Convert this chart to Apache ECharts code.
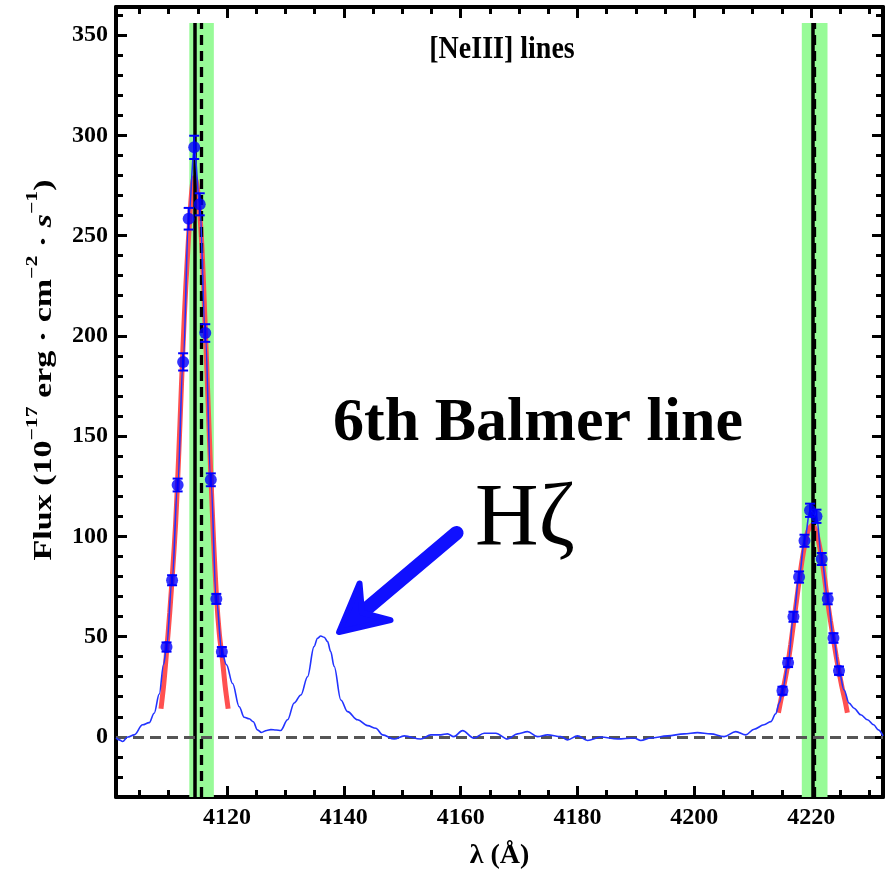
<!DOCTYPE html>
<html>
<head>
<meta charset="utf-8">
<script src="https://cdn.jsdelivr.net/npm/echarts@6/dist/echarts.min.js"></script>
<style>
  html, body { margin: 0; padding: 0; background: #fff; }
  #chart { width: 891px; height: 875px; }
</style>
</head>
<body>
<div id="chart"></div>
<script>
// ---- Spectrum (wavelength in Å, flux in 1e-17 erg/cm^2/s) ----
// continuum blueward of the first [NeIII] line
const contLeftWave = [4101.0, 4101.55, 4102.13, 4103.0, 4104.12, 4105.56, 4106.68, 4107.54, 4108.4, 4109.15];
const contLeftFlux = [-0.5, -1.5, -2.3, -0.1, 1.0, 6.0, 7.1, 11.8, 21.3, 36.2];

// pixels inside the first fit window (points with error bars)
const lineAWave = [4109.65, 4110.60, 4111.55, 4112.49, 4113.44, 4114.39, 4115.33, 4116.28, 4117.23, 4118.17, 4119.12];
const lineAFlux = [44.8, 78.1, 125.6, 187.0, 258.4, 294.0, 265.6, 201.4, 128.2, 68.8, 42.5];
const lineAErr  = [2.3, 2.5, 3.2, 4.3, 5.4, 5.8, 5.5, 4.4, 3.2, 2.5, 2.3];

// continuum between the two lines, including the H-zeta bump
const contMidWave = [4119.9, 4120.96, 4122.09, 4122.94, 4123.8, 4124.5, 4125.2, 4125.9, 4126.8, 4127.5,
  4128.4, 4129.2, 4130.37, 4131.5, 4132.65, 4133.79, 4134.9, 4135.5, 4136.05, 4136.64,
  4137.22, 4137.75, 4138.35, 4139.49, 4140.64, 4142.35, 4144.06, 4145.48, 4146.63, 4148.62,
  4150.33, 4153.18, 4154.9, 4156.61, 4157.75, 4158.83, 4160.32, 4162.26, 4164.02, 4166.02,
  4168.02, 4169.73, 4171.45, 4173.16, 4174.87, 4177.15, 4178.29, 4180.0, 4181.72, 4183.99,
  4186.85, 4189.69, 4190.84, 4192.55, 4195.41, 4198.25, 4200.54, 4202.82, 4205.09, 4207.1,
  4208.81, 4210.23, 4211.94, 4213.09, 4213.94, 4214.55];
const contMidFlux = [36.0, 26.6, 15.0, 9.8, 9.0, 7.5, 3.5, 2.2, 3.2, 3.6,
  3.4, 3.2, 8.5, 16.9, 20.9, 30.0, 45.0, 49.2, 50.3, 49.7,
  47.5, 42.5, 35.1, 18.4, 12.6, 8.5, 5.6, 4.3, 1.0, -1.1,
  0.5, -1.1, 1.0, 1.0, 1.5, 0.1, 3.1, -0.6, 1.8, 1.8,
  -1.1, 1.5, 2.6, 0.1, 1.0, 0.1, -1.5, 0.5, -1.8, -0.1,
  -1.1, -0.6, -1.8, -0.6, 0.5, 1.5, 2.1, 1.5, 0.1, 2.6,
  1.0, 3.8, 6.0, 7.6, 11.5, 17.0];

// pixels inside the second fit window
const lineBWave = [4215.09, 4216.05, 4216.97, 4217.93, 4218.86, 4219.81, 4220.91, 4221.81, 4222.84, 4223.82, 4224.77];
const lineBFlux = [23.0, 37.0, 59.9, 79.7, 97.8, 113.0, 110.0, 88.7, 68.8, 49.3, 33.0];
const lineBErr  = [2.0, 2.2, 2.5, 2.8, 3.0, 3.3, 3.3, 3.0, 2.7, 2.4, 2.1];

// continuum redward of the second line
const contRightWave = [4225.63, 4226.49, 4227.34, 4228.49, 4229.64, 4230.7, 4231.5, 4232.3];
const contRightFlux = [23.4, 16.8, 14.3, 11.0, 8.5, 6.0, 3.5, 0.5];

// ---- Gaussian fit profiles ----
const fitAWave = [4108.7, 4109.2, 4109.7, 4110.2, 4110.7, 4111.2, 4111.7, 4112.2, 4112.7, 4113.2,
  4113.7, 4114.1, 4114.45, 4114.8, 4115.2, 4115.7, 4116.2, 4116.7, 4117.2, 4117.7,
  4118.2, 4118.7, 4119.2, 4119.7, 4120.2];
const fitAFlux = [14, 27, 44, 62, 83, 106, 138, 175, 210, 238,
  262, 276, 279, 276, 266, 245, 210, 172, 133, 98,
  70, 51, 39, 25, 14];
const fitBWave = [4214.4, 4215.0, 4215.5, 4216.0, 4216.5, 4217.0, 4217.5, 4218.0, 4218.5, 4219.0,
  4219.5, 4220.2, 4220.8, 4221.3, 4221.8, 4222.3, 4222.8, 4223.3, 4223.8, 4224.3,
  4224.8, 4225.3, 4225.8, 4226.2];
const fitBFlux = [12, 21, 28, 36, 46, 57, 68, 79, 89, 97,
  103, 105.5, 103, 97, 89, 79, 68, 58, 49, 40,
  32, 24.5, 18, 12];

// ---- reference wavelengths and fit windows ----
const restWave     = [4114.4, 4220.2];   // solid lines
const measuredWave = [4115.6, 4220.6];   // dashed lines
const windowLow    = [4113.55, 4218.4];
const windowHigh   = [4117.75, 4222.8];
const markerTop    = 356;

// ---- axes ----
const xRange = [4101.0, 4232.3];
const yRange = [-30, 364];
const xTicks = [4120, 4140, 4160, 4180, 4200, 4220];
const xMinorTicks = [4105, 4110, 4115, 4125, 4130, 4135, 4145, 4150, 4155, 4165, 4170, 4175,
  4185, 4190, 4195, 4205, 4210, 4215, 4225, 4230];
const yTicks = [0, 50, 100, 150, 200, 250, 300, 350];
const yMinorTicks = [-20, -10, 10, 20, 30, 40, 60, 70, 80, 90, 110, 120, 130, 140, 160, 170, 180, 190,
  210, 220, 230, 240, 260, 270, 280, 290, 310, 320, 330, 340, 360];

// ---- annotation arrow (data coordinates: tail, tip) ----
const arrowTail = [4159.3, 101.7];
const arrowTip  = [4138.8, 51.3];

const serif = '"Liberation Serif", "Times New Roman", serif';
const zip = (a, b) => a.map((v, i) => [v, b[i]]);

const spectrum = [].concat(
  zip(contLeftWave, contLeftFlux),
  zip(lineAWave, lineAFlux),
  zip(contMidWave, contMidFlux),
  zip(lineBWave, lineBFlux),
  zip(contRightWave, contRightFlux)
);
const fitPoints = zip(lineAWave, lineAFlux).concat(zip(lineBWave, lineBFlux));
const errRows = lineAWave.map((w, i) => [w, lineAFlux[i] - lineAErr[i], lineAFlux[i] + lineAErr[i]])
  .concat(lineBWave.map((w, i) => [w, lineBFlux[i] - lineBErr[i], lineBFlux[i] + lineBErr[i]]));

function axisDef(kind, position, ticks, len, withLabel, withLine) {
  const range = kind === 'x' ? xRange : yRange;
  return {
    type: 'value', position: position, min: range[0], max: range[1],
    axisLine: { show: withLine, onZero: false, lineStyle: { color: '#000', width: 4 } },
    axisTick: { show: true, inside: true, length: len, customValues: ticks,
      lineStyle: { color: '#000', width: 3 } },
    axisLabel: withLabel ? {
      show: true, customValues: ticks, margin: kind === 'x' ? 9 : 8, color: '#000',
      fontFamily: serif, fontWeight: 'bold', fontSize: 24,
      formatter: v => String(v)
    } : { show: false },
    splitLine: { show: false }
  };
}

const xMain = axisDef('x', 'bottom', xTicks, 11, true, true);
xMain.name = 'λ (Å)';
xMain.nameLocation = 'middle';
xMain.nameGap = 45;
xMain.nameTextStyle = { fontFamily: serif, fontWeight: 'bold', fontSize: 28, color: '#000' };

const bandAreas = windowLow.map((lo, i) => [
  { coord: [lo, yRange[0]] }, { coord: [windowHigh[i], markerTop] }
]);
const solidLines = restWave.map(w => [{ coord: [w, yRange[0]] }, { coord: [w, markerTop] }]);
const dashedLines = measuredWave.map(w => [{ coord: [w, yRange[0]] }, { coord: [w, markerTop] }]);

const option = {
  animation: false,
  backgroundColor: '#fff',
  grid: { left: 116, top: 7, right: 8, bottom: 78, containLabel: false, outerBoundsMode: 'none' },
  xAxis: [
    xMain,
    axisDef('x', 'bottom', xMinorTicks, 7, false, false),
    axisDef('x', 'top', xTicks, 11, false, true),
    axisDef('x', 'top', xMinorTicks, 7, false, false)
  ],
  yAxis: [
    axisDef('y', 'left', yTicks, 11, true, true),
    axisDef('y', 'left', yMinorTicks, 7, false, false),
    axisDef('y', 'right', yTicks, 11, false, true),
    axisDef('y', 'right', yMinorTicks, 7, false, false)
  ],
  graphic: [
    { // vertical axis title
      type: 'text', x: 41, y: 370, rotation: Math.PI / 2, scaleX: 1.36, z: 100,
      style: {
        text: '{b|Flux (10}{s|−17}{b| erg · cm}{s|−2}{b| · }{i|s}{s|−1}{b|)}',
        align: 'center', verticalAlign: 'middle', fill: '#000',
        rich: {
          b: { fontFamily: serif, fontWeight: 'bold', fontSize: 25, lineHeight: 32, verticalAlign: 'bottom', fill: '#000' },
          i: { fontFamily: serif, fontWeight: 'bold', fontStyle: 'italic', fontSize: 25, lineHeight: 32, verticalAlign: 'bottom', fill: '#000' },
          s: { fontFamily: serif, fontWeight: 'bold', fontSize: 16, lineHeight: 17, verticalAlign: 'top', fill: '#000' }
        }
      }
    },
    { type: 'text', x: 502, y: 50, scaleY: 1.15, z: 100,
      style: { text: '[NeIII] lines', fill: '#000', align: 'center', verticalAlign: 'middle',
        font: 'bold 28px ' + serif } },
    { type: 'text', x: 538, y: 424, z: 100,
      style: { text: '6th Balmer line', fill: '#000', align: 'center', verticalAlign: 'middle',
        font: 'bold 62px ' + serif } },
    { type: 'text', x: 525, y: 521, z: 100,
      style: { text: 'Hζ', fill: '#000', align: 'center', verticalAlign: 'middle',
        font: '88px ' + serif } }
  ],
  series: [
    { // fit windows
      type: 'line', data: [], z: 1, silent: true,
      markArea: { silent: true, itemStyle: { color: '#98fb98' }, data: bandAreas }
    },
    {
      type: 'line', data: [], z: 2, silent: true,
      markLine: { silent: true, symbol: ['none', 'none'], label: { show: false },
        lineStyle: { color: '#000', width: 3.5, type: 'solid' }, data: solidLines }
    },
    {
      type: 'line', data: [], z: 2, silent: true,
      markLine: { silent: true, symbol: ['none', 'none'], label: { show: false },
        lineStyle: { color: '#000', width: 3.3, type: [10, 6] }, data: dashedLines }
    },
    { // zero level
      type: 'line', data: [], z: 3, silent: true,
      markLine: { silent: true, symbol: ['none', 'none'], label: { show: false },
        lineStyle: { color: '#555', width: 3, type: [11, 6] }, data: [{ yAxis: 0 }] }
    },
    {
      type: 'line', data: zip(fitAWave, fitAFlux), z: 4, showSymbol: false, smooth: 0.3,
      lineStyle: { color: '#ff5050', width: 5 }
    },
    {
      type: 'line', data: zip(fitBWave, fitBFlux), z: 4, showSymbol: false, smooth: 0.3,
      lineStyle: { color: '#ff5050', width: 5 }
    },
    {
      type: 'line', data: spectrum, z: 5, showSymbol: false, smooth: 0.35, smoothMonotone: 'x',
      lineStyle: { color: '#2233ff', width: 1.6 }
    },
    {
      type: 'custom', data: errRows, z: 6,
      renderItem: function (params, api) {
        const w = api.value(0);
        const top = api.coord([w, api.value(2)]);
        const bot = api.coord([w, api.value(1)]);
        const hw = 5;
        const st = { stroke: '#0000ff', lineWidth: 2 };
        return { type: 'group', children: [
          { type: 'line', shape: { x1: top[0], y1: top[1], x2: bot[0], y2: bot[1] }, style: st },
          { type: 'line', shape: { x1: top[0] - hw, y1: top[1], x2: top[0] + hw, y2: top[1] }, style: st },
          { type: 'line', shape: { x1: bot[0] - hw, y1: bot[1], x2: bot[0] + hw, y2: bot[1] }, style: st }
        ] };
      }
    },
    {
      type: 'scatter', data: fitPoints, z: 7, symbol: 'circle', symbolSize: 12,
      itemStyle: { color: '#0000ff' }
    },
    { // arrow pointing at the H-zeta feature
      type: 'custom', z: 8, silent: true,
      data: [[arrowTail[0], arrowTail[1], arrowTip[0], arrowTip[1]]],
      renderItem: function (params, api) {
        const t = api.coord([api.value(0), api.value(1)]);
        const h = api.coord([api.value(2), api.value(3)]);
        const len = Math.hypot(t[0] - h[0], t[1] - h[1]);
        const ux = (t[0] - h[0]) / len, uy = (t[1] - h[1]) / len;
        const px = -uy, py = ux;
        const headLen = 47, halfW = 24, notch = 30;
        const tip = [h[0] + ux * 3, h[1] + uy * 3];
        const b1 = [tip[0] + ux * headLen + px * halfW, tip[1] + uy * headLen + py * halfW];
        const b2 = [tip[0] + ux * headLen - px * halfW, tip[1] + uy * headLen - py * halfW];
        const nk = [tip[0] + ux * notch, tip[1] + uy * notch];
        const color = '#1010ff';
        return { type: 'group', children: [
          { type: 'line', shape: { x1: t[0], y1: t[1], x2: nk[0], y2: nk[1] },
            style: { stroke: color, lineWidth: 14, lineCap: 'round' } },
          { type: 'polygon', shape: { points: [tip, b1, nk, b2] },
            style: { fill: color, stroke: color, lineWidth: 6, lineJoin: 'round' } }
        ] };
      }
    }
  ]
};

const chart = echarts.init(document.getElementById('chart'));
chart.setOption(option);
</script>
</body>
</html>
